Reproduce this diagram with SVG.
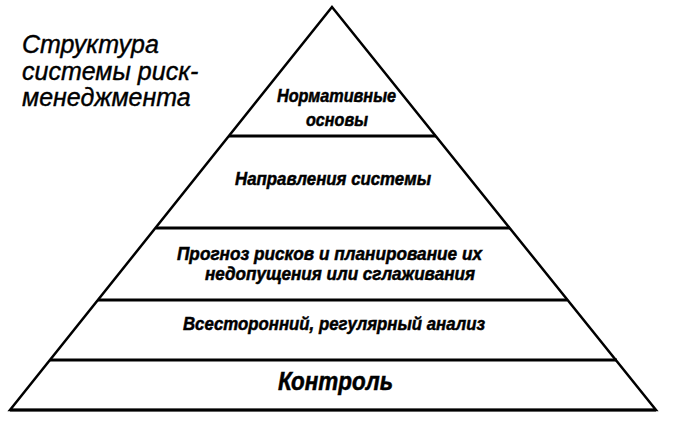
<svg xmlns="http://www.w3.org/2000/svg" width="698" height="439" viewBox="0 0 698 439">
<style>
.edge{fill:none;stroke:#000;stroke-width:2.5;stroke-linejoin:miter}
.sep{stroke:#000;stroke-width:3;fill:none}
.lbl{font-family:"Liberation Sans",Arial,sans-serif;font-weight:bold;font-style:italic;font-size:18px;fill:#000;stroke:#000;stroke-width:0.5}
.big{font-size:25px}
.title{font-family:"Liberation Sans",Arial,sans-serif;font-style:italic;font-size:25px;fill:#000;stroke:#000;stroke-width:0.4}
</style>
<rect width="698" height="439" fill="#fff"/>
<g id="title">
<text class="title" x="22" y="53">Структура</text>
<text class="title" x="22" y="80">системы риск-</text>
<text class="title" x="22" y="106">менеджмента</text>
</g>
<g id="connectors">
<polygon class="edge" points="332,7 656,410 10,410"/>
<line class="sep" x1="229" y1="136" x2="436" y2="136"/>
<line class="sep" x1="156" y1="228" x2="510" y2="228"/>
<line class="sep" x1="98" y1="300" x2="567" y2="300"/>
<line class="sep" x1="50" y1="360" x2="617" y2="360"/>
<line class="sep" x1="10" y1="410" x2="656" y2="410"/>
</g>
<g id="level1">
<text class="lbl" x="277" y="102" textLength="119" lengthAdjust="spacingAndGlyphs">Нормативные</text>
<text class="lbl" x="306" y="126" textLength="62" lengthAdjust="spacingAndGlyphs">основы</text>
</g>
<g id="level2">
<text class="lbl" x="235" y="185" textLength="196" lengthAdjust="spacingAndGlyphs">Направления системы</text>
</g>
<g id="level3">
<text class="lbl" x="177" y="260" textLength="305" lengthAdjust="spacingAndGlyphs">Прогноз рисков и планирование их</text>
<text class="lbl" x="205" y="280" textLength="270" lengthAdjust="spacingAndGlyphs">недопущения или сглаживания</text>
</g>
<g id="level4">
<text class="lbl" x="183" y="330" textLength="302" lengthAdjust="spacingAndGlyphs">Всесторонний, регулярный анализ</text>
</g>
<g id="level5">
<text class="lbl big" x="278" y="390" textLength="115" lengthAdjust="spacingAndGlyphs">Контроль</text>
</g>
</svg>
